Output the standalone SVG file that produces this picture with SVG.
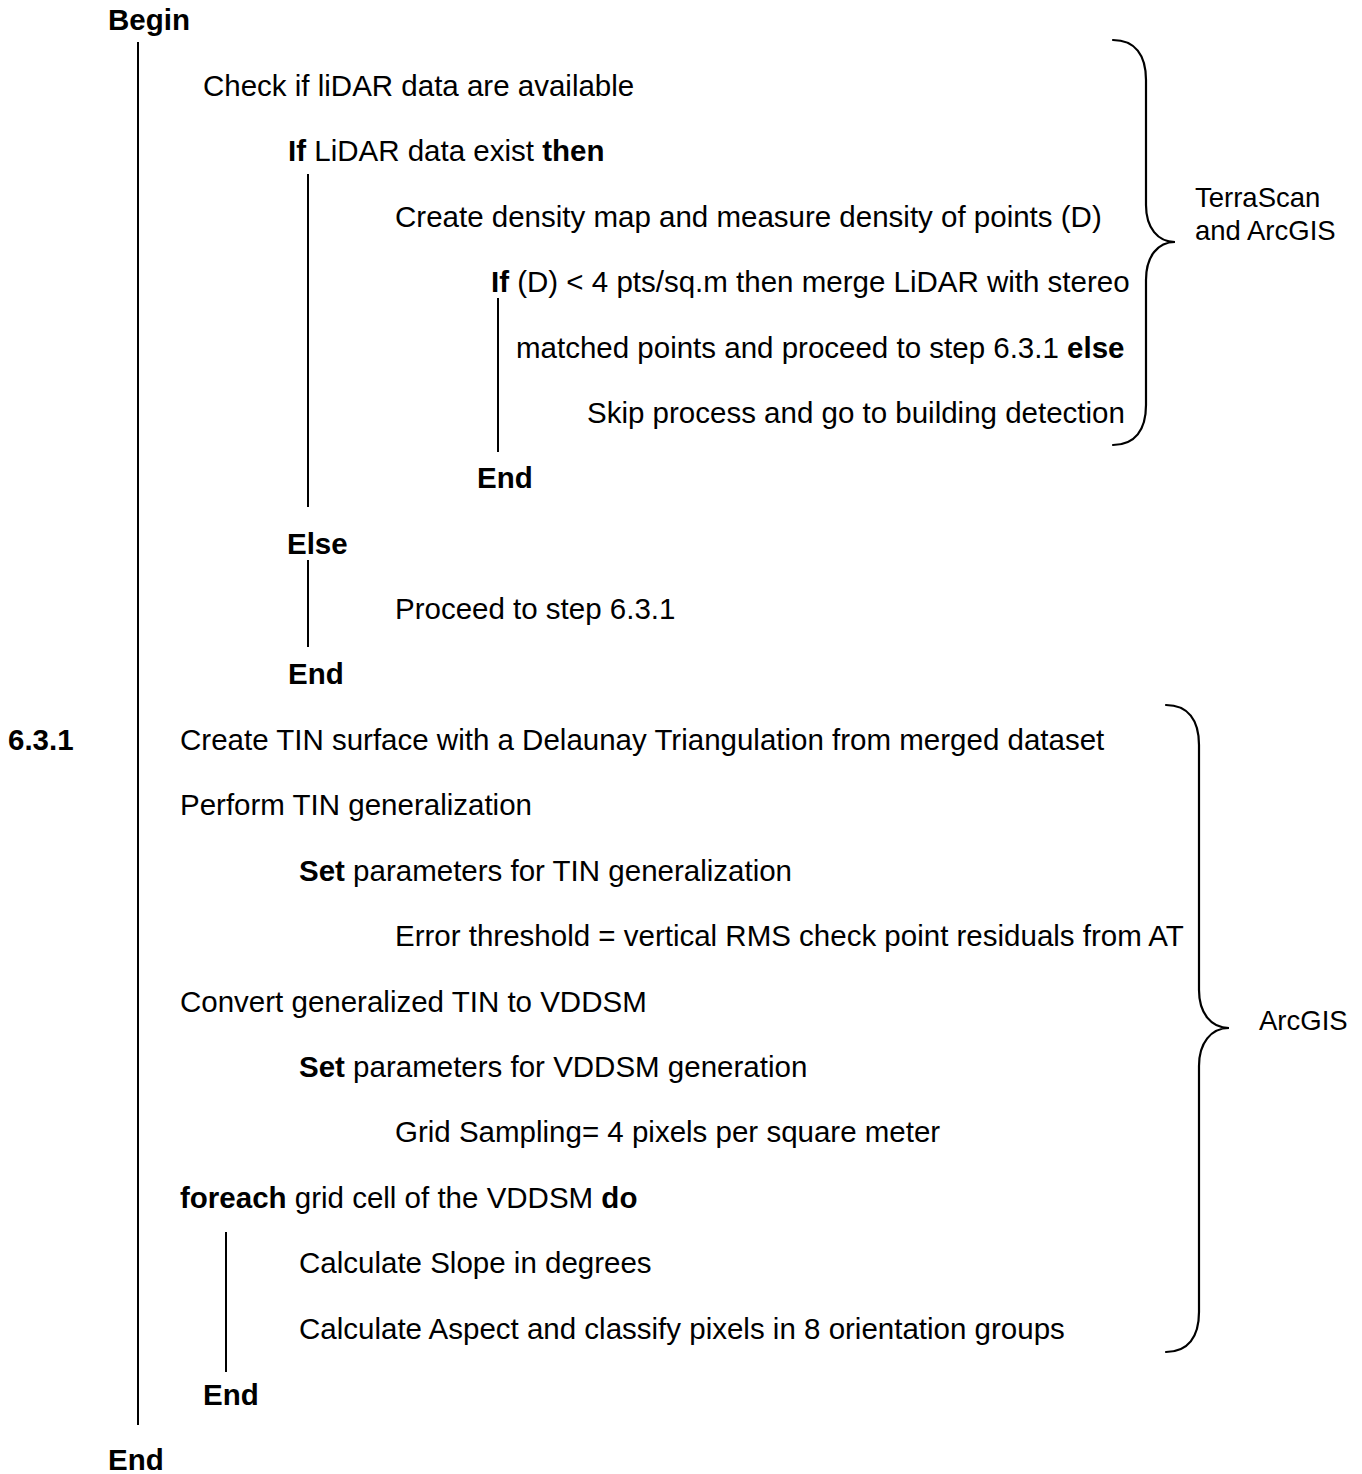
<svg xmlns="http://www.w3.org/2000/svg" width="1362" height="1474" viewBox="0 0 1362 1474">
  <style>
    text { font-family: "Liberation Sans", Arial, sans-serif; font-size: 29.5px; fill: #000; }
    .b { font-weight: bold; }
    .note { font-size: 27.5px; }
    .rule { stroke: #000; stroke-width: 2; fill: none; }
    .brace { stroke: #000; stroke-width: 2.2; fill: none; stroke-linecap: round; }
  </style>
  <rect width="1362" height="1474" fill="#fff"/>

  <!-- block rules and braces -->
  <g id="connectors">
    <line class="rule" x1="138" y1="42" x2="138" y2="1425"/>
    <line class="rule" x1="308" y1="174" x2="308" y2="507"/>
    <line class="rule" x1="308" y1="560" x2="308" y2="647"/>
    <line class="rule" x1="498" y1="298" x2="498" y2="452"/>
    <line class="rule" x1="226" y1="1232" x2="226" y2="1372"/>
    <path class="brace" d="M1113,40 C1135,40 1146,55 1146,80 L1146,205 C1146,228 1158,242 1175,242 C1158,242 1146,256 1146,280 L1146,405 C1146,430 1135,445 1113,445"/>
    <path class="brace" d="M1166,705 C1188,705 1199,720 1199,745 L1199,990 C1199,1013 1211,1028 1229,1028 C1211,1028 1199,1043 1199,1066 L1199,1312 C1199,1337 1188,1352 1166,1352"/>
  </g>

  <g id="begin"><text class="b" x="108" y="30">Begin</text></g>
  <g id="check"><text x="203" y="96">Check if liDAR data are available</text></g>
  <g id="if-lidar"><text x="288" y="161"><tspan class="b">If</tspan> LiDAR data exist <tspan class="b">then</tspan></text></g>
  <g id="density"><text x="395" y="227">Create density map and measure density of points (D)</text></g>
  <g id="if-density"><text x="491" y="292"><tspan class="b">If</tspan> (D) &lt; 4 pts/sq.m then merge LiDAR with stereo</text></g>
  <g id="merge"><text x="516" y="358">matched points and proceed to step 6.3.1 <tspan class="b">else</tspan></text></g>
  <g id="skip"><text x="587" y="423">Skip process and go to building detection</text></g>
  <g id="end-if-density"><text class="b" x="477" y="488">End</text></g>
  <g id="else"><text class="b" x="287" y="554">Else</text></g>
  <g id="proceed"><text x="395" y="619">Proceed to step 6.3.1</text></g>
  <g id="end-if-lidar"><text class="b" x="288" y="684">End</text></g>
  <g id="step-label"><text class="b" x="8" y="750">6.3.1</text></g>
  <g id="create-tin"><text x="180" y="750">Create TIN surface with a Delaunay Triangulation from merged dataset</text></g>
  <g id="generalize"><text x="180" y="815">Perform TIN generalization</text></g>
  <g id="set-tin"><text x="299" y="881"><tspan class="b">Set</tspan> parameters for TIN generalization</text></g>
  <g id="threshold"><text x="395" y="946">Error threshold = vertical RMS check point residuals from AT</text></g>
  <g id="convert"><text x="180" y="1012">Convert generalized TIN to VDDSM</text></g>
  <g id="set-vddsm"><text x="299" y="1077"><tspan class="b">Set</tspan> parameters for VDDSM generation</text></g>
  <g id="grid"><text x="395" y="1142">Grid Sampling= 4 pixels per square meter</text></g>
  <g id="foreach"><text x="180" y="1208"><tspan class="b">foreach</tspan> grid cell of the VDDSM <tspan class="b">do</tspan></text></g>
  <g id="slope"><text x="299" y="1273">Calculate Slope in degrees</text></g>
  <g id="aspect"><text x="299" y="1339">Calculate Aspect and classify pixels in 8 orientation groups</text></g>
  <g id="end-foreach"><text class="b" x="203" y="1405">End</text></g>
  <g id="end"><text class="b" x="108" y="1470">End</text></g>

  <g id="tools-top">
    <text class="note" x="1195" y="207">TerraScan</text>
    <text class="note" x="1195" y="240">and ArcGIS</text>
  </g>
  <g id="tools-bottom"><text class="note" x="1259" y="1030">ArcGIS</text></g>
</svg>
